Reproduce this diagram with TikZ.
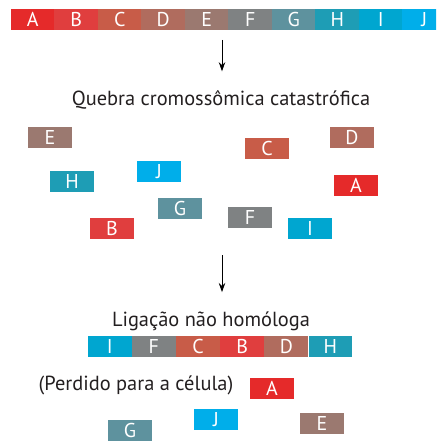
\documentclass[tikz,border=0pt]{standalone}
\usepackage{fontspec}
\setmainfont{PT Sans}
\usetikzlibrary{arrows.meta, positioning}
\definecolor{segA}{HTML}{E52A2A}
\definecolor{segB}{HTML}{E03E3E}
\definecolor{segC}{HTML}{C85C48}
\definecolor{segD}{HTML}{B06C5E}
\definecolor{segE}{HTML}{9B7970}
\definecolor{segF}{HTML}{7F8283}
\definecolor{segG}{HTML}{5E929E}
\definecolor{segH}{HTML}{1E9DB5}
\definecolor{segI}{HTML}{00A6D0}
\definecolor{segJ}{HTML}{00AEEA}
\definecolor{inktext}{HTML}{231F20}

\begin{document}
\begin{tikzpicture}[
			x=0.75pt, y=-0.75pt,
			seg/.style={rectangle, inner sep=0pt, minimum width=32.8pt, minimum height=15.75pt, text=white, font=\fontsize{15}{15}\selectfont},
			arrow/.style={-{Stealth[length=2.4mm, width=1.7mm]}, semithick},
			title/.style={font=\fontsize{15.3}{16}\selectfont, text=inktext}
			]
			\useasboundingbox (0,0) rectangle (436,441);
			\clip (0,0) rectangle (436,441);
			
			% original chromosome
			\foreach \l [count=\i] in {A,B,C,D,E,F,G,H,I,J}
				\node[seg, fill=seg\l, minimum width=32.7pt] (top\l) at ({11+43.5*(\i-0.5)}, 19.5) {\l};
			
			\coordinate (s1) at (222,40);
			\node[title] (shatter) at (221,100) {Quebra cromossômica catastrófica};
			\draw[arrow, shorten >=11pt] (s1) -- (s1 |- shatter.north);
			
			% fragments
			\node[seg, fill=segE] (brE) at (50,137.5) {E};
			\node[seg, fill=segD] (brD) at (352,137.5) {D};
			\node[seg, fill=segC] (brC) at (267,148.5) {C};
			\node[seg, fill=segJ] (brJ) at (159,171.5) {J};
			\node[seg, fill=segH] (brH) at (72,181.5) {H};
			\node[seg, fill=segA] (brA) at (356,185.5) {A};
			\node[seg, fill=segG] (brG) at (180,208.5) {G};
			\node[seg, fill=segF] (brF) at (250,217.5) {F};
			\node[seg, fill=segB] (brB) at (112,228.5) {B};
			\node[seg, fill=segI] (brI) at (310,228.5) {I};
			
			\coordinate (s2) at (222,255);
			\node[title] (rejoin) at (211,321) {Ligação não homóloga};
			\draw[arrow, shorten >=11pt] (s2) -- (s2 |- rejoin.north);
			
			% derivative chromosome
			\node[seg, fill=segI, minimum width=32.7pt] (joinI) at (109.75,346.5) {I};
			\node[seg, fill=segF, minimum width=32.7pt, right=0pt of joinI] (joinF) {F};
			\node[seg, fill=segC, minimum width=32.7pt, right=0pt of joinF] (joinC) {C};
			\node[seg, fill=segB, minimum width=32.7pt, right=0pt of joinC] (joinB) {B};
			\node[seg, fill=segD, minimum width=32.7pt, right=0pt of joinB] (joinD) {D};
			\node[seg, fill=segH, minimum width=32.7pt, right=0pt of joinD] (joinH) {H};
			
			% lost pieces
			\node[title] (lost) at (136,385) {(Perdido para a célula)};
			\node[seg, fill=segA] (lostA) at (272,388.5) {A};
			\node[seg, fill=segJ] (lostJ) at (216,419.5) {J};
			\node[seg, fill=segE] (lostE) at (322,423.5) {E};
			\node[seg, fill=segG] (lostG) at (130,430.5) {G};
		\end{tikzpicture}
\end{document}
